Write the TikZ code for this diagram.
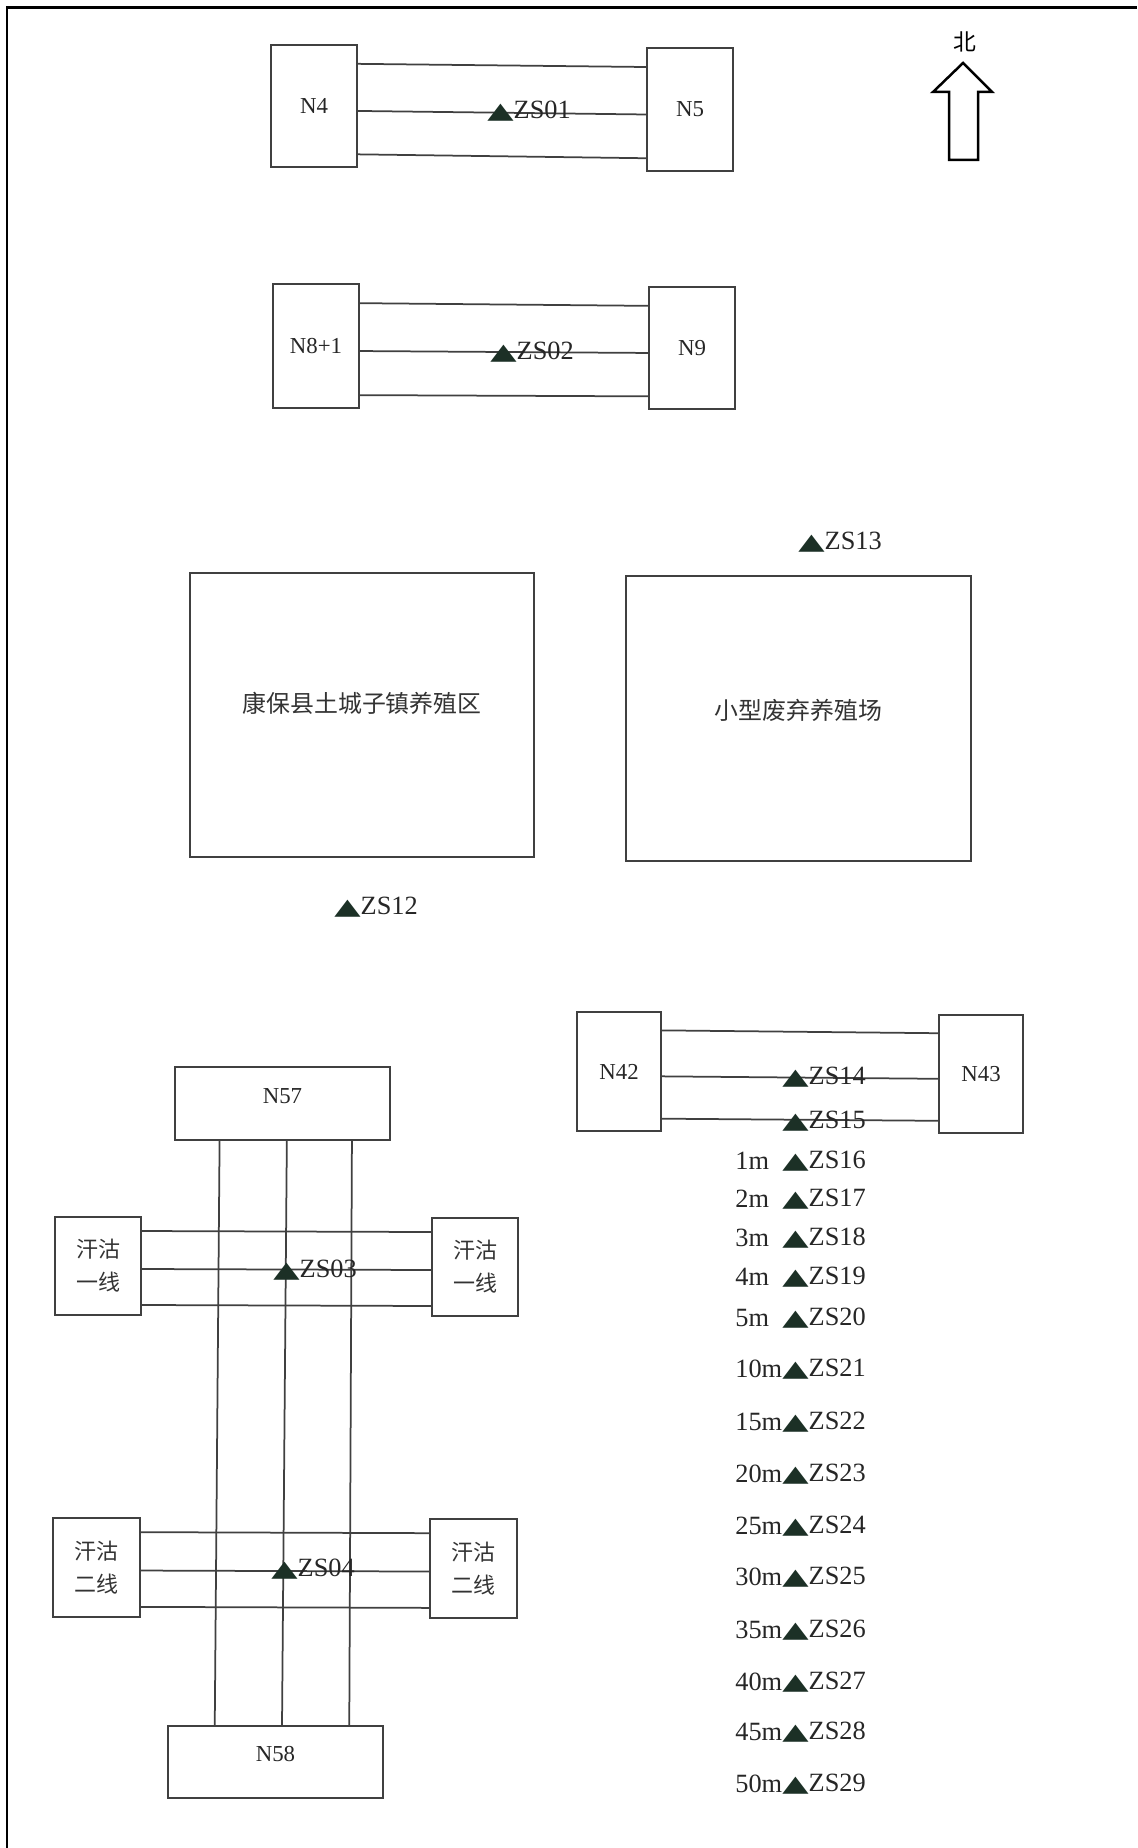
\documentclass[tikz,border=0pt]{standalone}
\usepackage{fontspec}
\setmainfont{Liberation Serif}
\newfontfamily\cjk{Noto Sans CJK SC}
\newfontfamily\symf{DejaVu Sans}
\usepackage{graphicx}
\usepackage{tikz}
\usetikzlibrary{positioning}
\usetikzlibrary{calc}

\definecolor{markgreen}{RGB}{28,48,38}
\newcommand{\tri}{{\symf\color{markgreen}\scalebox{1.3}[0.85]{▲}}}

\tikzset{
    site/.style={draw=black!75, line width=0.04cm, inner sep=0pt, minimum width=1.72cm, minimum height=2.44cm, font=\fontsize{13}{15}\selectfont, text=black!85},
    wire/.style={draw=black!75, line width=0.035cm},
    point/.style={anchor=west, inner sep=0pt, font=\fontsize{15}{18}\selectfont, text=black!85},
    dist/.style={anchor=west, inner sep=0pt, font=\fontsize{15}{18}\selectfont, text=black!85},
    nlab/.style={font=\fontsize{13}{15}\selectfont, text=black!85},
    cjklab/.style={font=\cjk\fontsize{13.6}{16}\selectfont, text=black!80},
    line2/.style={align=center, font=\cjk\fontsize{12.5}{18.7}\selectfont, text=black!80},
}

\begin{document}
\begin{tikzpicture}[x=0.02cm, y=-0.02cm]
    \useasboundingbox (0,0) rectangle (1137,1848);

    % frame
    \draw[line width=0.06cm] (7,1848) -- (7,8) -- (1137,8);

    % north
    \node[font=\cjk\fontsize{13}{15}\selectfont] (north) at (965,42) {北};
    \draw[line width=0.05cm, line join=miter] (949,160) -- (949,92) -- (933,92) -- (963,63) -- (992,92) -- (978,92) -- (978,160) -- cycle;

    % N4 - N5
    \node[site] (n4) at (314,106) {N4};
    \node[site, minimum height=2.46cm] (n5) at (690,109.5) {N5};
    \draw[wire] ($(n4.north east)!0.16!(n4.south east)$) -- ($(n5.north west)!0.16!(n5.south west)$);
    \draw[wire] ($(n4.north east)!0.54!(n4.south east)$) -- ($(n5.north west)!0.54!(n5.south west)$);
    \draw[wire] ($(n4.north east)!0.89!(n4.south east)$) -- ($(n5.north west)!0.89!(n5.south west)$);
    \node[point] (zs01) at (487,111) {\tri ZS01};

    % N8+1 - N9
    \node[site, minimum height=2.48cm] (n8) at (316,346) {N8+1};
    \node[site] (n9) at (692,348) {N9};
    \draw[wire] ($(n8.north east)!0.16!(n8.south east)$) -- ($(n9.north west)!0.16!(n9.south west)$);
    \draw[wire] ($(n8.north east)!0.54!(n8.south east)$) -- ($(n9.north west)!0.54!(n9.south west)$);
    \draw[wire] ($(n8.north east)!0.89!(n8.south east)$) -- ($(n9.north west)!0.89!(n9.south west)$);
    \node[point] (zs02) at (490,352) {\tri ZS02};

    % farms
    \node[site, minimum width=6.88cm, minimum height=5.68cm, label={[cjklab, yshift=0.24cm]center:康保县土城子镇养殖区}] (farm) at (362,715) {};
    \node[site, minimum width=6.9cm, minimum height=5.7cm, label={[cjklab, yshift=0.17cm]center:小型废弃养殖场}] (oldfarm) at (798.5,718.5) {};
    \node[point] (zs13) at (798,542) {\tri ZS13};
    \node[point] (zs12) at (334,907) {\tri ZS12};

    % N42 - N43
    \node[site, minimum width=1.68cm, minimum height=2.38cm] (n42) at (619,1071.5) {N42};
    \node[site, minimum width=1.68cm, minimum height=2.36cm] (n43) at (981,1074) {N43};
    \draw[wire] ($(n42.north east)!0.16!(n42.south east)$) -- ($(n43.north west)!0.16!(n43.south west)$);
    \draw[wire] ($(n42.north east)!0.54!(n42.south east)$) -- ($(n43.north west)!0.54!(n43.south west)$);
    \draw[wire] ($(n42.north east)!0.89!(n42.south east)$) -- ($(n43.north west)!0.89!(n43.south west)$);
    \node[point] (zs14) at (782,1077) {\tri ZS14};
    \node[point] (zs15) at (782,1121) {\tri ZS15};

    % distances
    \node[dist] (m1) at (735,1161) {1m};
    \node[point] (zs16) at (782,1161) {\tri ZS16};
    \node[dist] (m2) at (735,1199) {2m};
    \node[point] (zs17) at (782,1199) {\tri ZS17};
    \node[dist] (m3) at (735,1238) {3m};
    \node[point] (zs18) at (782,1238) {\tri ZS18};
    \node[dist] (m4) at (735,1277) {4m};
    \node[point] (zs19) at (782,1277) {\tri ZS19};
    \node[dist] (m5) at (735,1318) {5m};
    \node[point] (zs20) at (782,1318) {\tri ZS20};
    \node[dist] (m10) at (735,1369) {10m};
    \node[point] (zs21) at (782,1369) {\tri ZS21};
    \node[dist] (m15) at (735,1422) {15m};
    \node[point] (zs22) at (782,1422) {\tri ZS22};
    \node[dist] (m20) at (735,1474) {20m};
    \node[point] (zs23) at (782,1474) {\tri ZS23};
    \node[dist] (m25) at (735,1526) {25m};
    \node[point] (zs24) at (782,1526) {\tri ZS24};
    \node[dist] (m30) at (735,1577) {30m};
    \node[point] (zs25) at (782,1577) {\tri ZS25};
    \node[dist] (m35) at (735,1630) {35m};
    \node[point] (zs26) at (782,1630) {\tri ZS26};
    \node[dist] (m40) at (735,1682) {40m};
    \node[point] (zs27) at (782,1682) {\tri ZS27};
    \node[dist] (m45) at (735,1732) {45m};
    \node[point] (zs28) at (782,1732) {\tri ZS28};
    \node[dist] (m50) at (735,1784) {50m};
    \node[point] (zs29) at (782,1784) {\tri ZS29};

    % N57 - N58
    \node[site, minimum width=4.3cm, minimum height=1.46cm, label={[nlab, yshift=0.15cm]center:N57}] (n57) at (282.5,1103.5) {};
    \node[site, minimum width=4.3cm, minimum height=1.44cm, label={[nlab, yshift=0.16cm]center:N58}] (n58) at (275.5,1762) {};
    \draw[wire] ($(n57.south west)!0.21!(n57.south east)$) -- ($(n58.north west)!0.22!(n58.north east)$);
    \draw[wire] ($(n57.south west)!0.52!(n57.south east)$) -- ($(n58.north west)!0.53!(n58.north east)$);
    \draw[wire] ($(n57.south west)!0.82!(n57.south east)$) -- ($(n58.north west)!0.84!(n58.north east)$);

    % line one
    \node[site, minimum height=1.96cm, line2] (hg1w) at (98,1266) {汗沽\\一线};
    \node[site, minimum height=1.96cm, line2] (hg1e) at (475,1267) {汗沽\\一线};
    \draw[wire] ($(hg1w.north east)!0.15!(hg1w.south east)$) -- ($(hg1e.north west)!0.15!(hg1e.south west)$);
    \draw[wire] ($(hg1w.north east)!0.53!(hg1w.south east)$) -- ($(hg1e.north west)!0.53!(hg1e.south west)$);
    \draw[wire] ($(hg1w.north east)!0.89!(hg1w.south east)$) -- ($(hg1e.north west)!0.89!(hg1e.south west)$);
    \node[point] (zs03) at (273,1270) {\tri ZS03};

    % line two
    \node[site, minimum width=1.74cm, minimum height=1.98cm, line2] (hg2w) at (96.5,1567.5) {汗沽\\二线};
    \node[site, minimum width=1.74cm, minimum height=1.98cm, line2] (hg2e) at (473.5,1568.5) {汗沽\\二线};
    \draw[wire] ($(hg2w.north east)!0.15!(hg2w.south east)$) -- ($(hg2e.north west)!0.15!(hg2e.south west)$);
    \draw[wire] ($(hg2w.north east)!0.53!(hg2w.south east)$) -- ($(hg2e.north west)!0.53!(hg2e.south west)$);
    \draw[wire] ($(hg2w.north east)!0.89!(hg2w.south east)$) -- ($(hg2e.north west)!0.89!(hg2e.south west)$);
    \node[point] (zs04) at (271,1569) {\tri ZS04};
\end{tikzpicture}
\end{document}
